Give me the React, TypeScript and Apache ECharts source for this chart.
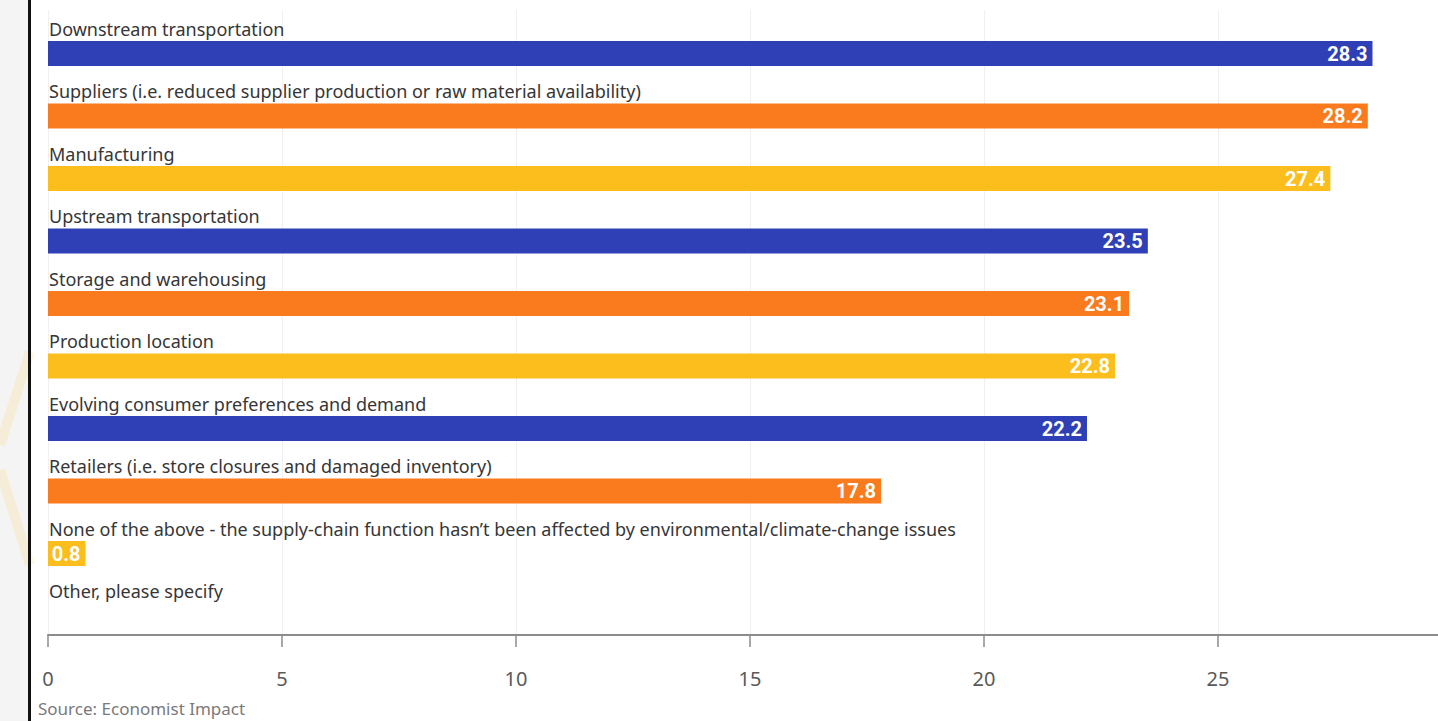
import React, { useEffect, useRef } from "react";
import * as echarts from "echarts";

// Survey answers, top to bottom
const categories = [
  "Downstream transportation",
  "Suppliers (i.e. reduced supplier production or raw material availability)",
  "Manufacturing",
  "Upstream transportation",
  "Storage and warehousing",
  "Production location",
  "Evolving consumer preferences and demand",
  "Retailers (i.e. store closures and damaged inventory)",
  "None of the above - the supply-chain function hasn\u2019t been affected by environmental/climate-change issues",
  "Other, please specify",
];

// Share of respondents, %
const values = [28.3, 28.2, 27.4, 23.5, 23.1, 22.8, 22.2, 17.8, 0.8, 0];

// Bar colours repeat blue / orange / yellow
const palette = ["#2f40b6", "#fa7a1e", "#fcbe1d"];

// Value axis (the plot runs off the right edge just before 30)
const axisMin = 0;
const axisMax = 29.7;
const axisStep = 5;

const sourceNote = "Source: Economist Impact";

const W = 1438;
const H = 721;
const PLOT_LEFT = 48;
const PLOT_WIDTH = 1390;
const PLOT_HEIGHT = 625;

export default function App() {
  const ref = useRef<HTMLDivElement | null>(null);

  useEffect(() => {
    if (!ref.current) return;
    const chart = echarts.init(ref.current, undefined, { renderer: "svg" });

    const labelFont = "'Noto Sans', 'Open Sans', sans-serif";
    const valueFont = "'Liberation Sans Narrow', 'Roboto', sans-serif";

    chart.setOption({
      animation: false,
      backgroundColor: "#ffffff",
      grid: [
        // axis + gridlines
        { left: PLOT_LEFT, top: 10, width: PLOT_WIDTH, height: PLOT_HEIGHT },
        // bars, shifted so each label sits above its bar
        { left: PLOT_LEFT, top: 22.25, width: PLOT_WIDTH, height: PLOT_HEIGHT },
      ],
      xAxis: [
        {
          gridIndex: 0,
          type: "value",
          min: axisMin,
          max: axisMax,
          interval: axisStep,
          axisLine: { show: true, lineStyle: { color: "#8c8c8c", width: 2 } },
          axisTick: { show: true, length: 12, lineStyle: { color: "#8c8c8c", width: 1.5 } },
          axisLabel: {
            margin: 33,
            color: "#5a5a5a",
            fontSize: 20,
            fontFamily: labelFont,
            showMaxLabel: false,
          },
          splitLine: { show: true, lineStyle: { color: "#f0f0f0", width: 1 } },
        },
        {
          gridIndex: 1,
          type: "value",
          min: axisMin,
          max: axisMax,
          interval: axisStep,
          show: false,
          splitLine: { show: false },
        },
      ],
      yAxis: [
        {
          gridIndex: 0,
          type: "category",
          data: categories,
          inverse: true,
          show: false,
        },
        {
          gridIndex: 1,
          type: "category",
          data: categories,
          inverse: true,
          axisLine: { show: false },
          axisTick: { show: false },
          splitLine: { show: false },
          axisLabel: {
            inside: true,
            margin: 1,
            align: "left",
            verticalAlign: "bottom",
            padding: [0, 0, 16, 0],
            color: "#363636",
            fontSize: 18,
            fontFamily: labelFont,
          },
        },
      ],
      series: [
        {
          type: "bar",
          xAxisIndex: 1,
          yAxisIndex: 1,
          barWidth: 25,
          data: values.map((v, i) => ({
            value: v,
            itemStyle: { color: palette[i % palette.length] },
          })),
          label: {
            show: true,
            position: "insideRight",
            distance: 5,
            color: "#ffffff",
            fontSize: 20,
            fontWeight: "bold",
            fontFamily: valueFont,
            formatter: (p: any) => (p.value > 0 ? String(p.value) : ""),
          },
        },
      ],
      graphic: [
        // side panel and frame line
        {
          type: "rect",
          left: 0,
          top: 0,
          shape: { width: 28, height: H },
          style: { fill: "#f4f4f4" },
          silent: true,
        },
        {
          type: "polyline",
          shape: { points: [[30, 352], [0, 445]] },
          style: { stroke: "rgba(252, 205, 70, 0.16)", lineWidth: 10, fill: "none" },
          silent: true,
        },
        {
          type: "polyline",
          shape: { points: [[0, 470], [30, 565]] },
          style: { stroke: "rgba(252, 205, 70, 0.16)", lineWidth: 10, fill: "none" },
          silent: true,
        },
        {
          type: "rect",
          left: 28,
          top: 0,
          shape: { width: 3, height: H },
          style: { fill: "#111111" },
          silent: true,
        },
        {
          type: "text",
          left: 38,
          top: 700,
          style: {
            text: sourceNote,
            fill: "#7a7a7a",
            fontSize: 17,
            fontFamily: labelFont,
          },
          silent: true,
        },
      ],
    });

    return () => chart.dispose();
  }, []);

  return (
    <div
      ref={ref}
      style={{ position: "fixed", left: 0, top: 0, width: W, height: H }}
    />
  );
}
